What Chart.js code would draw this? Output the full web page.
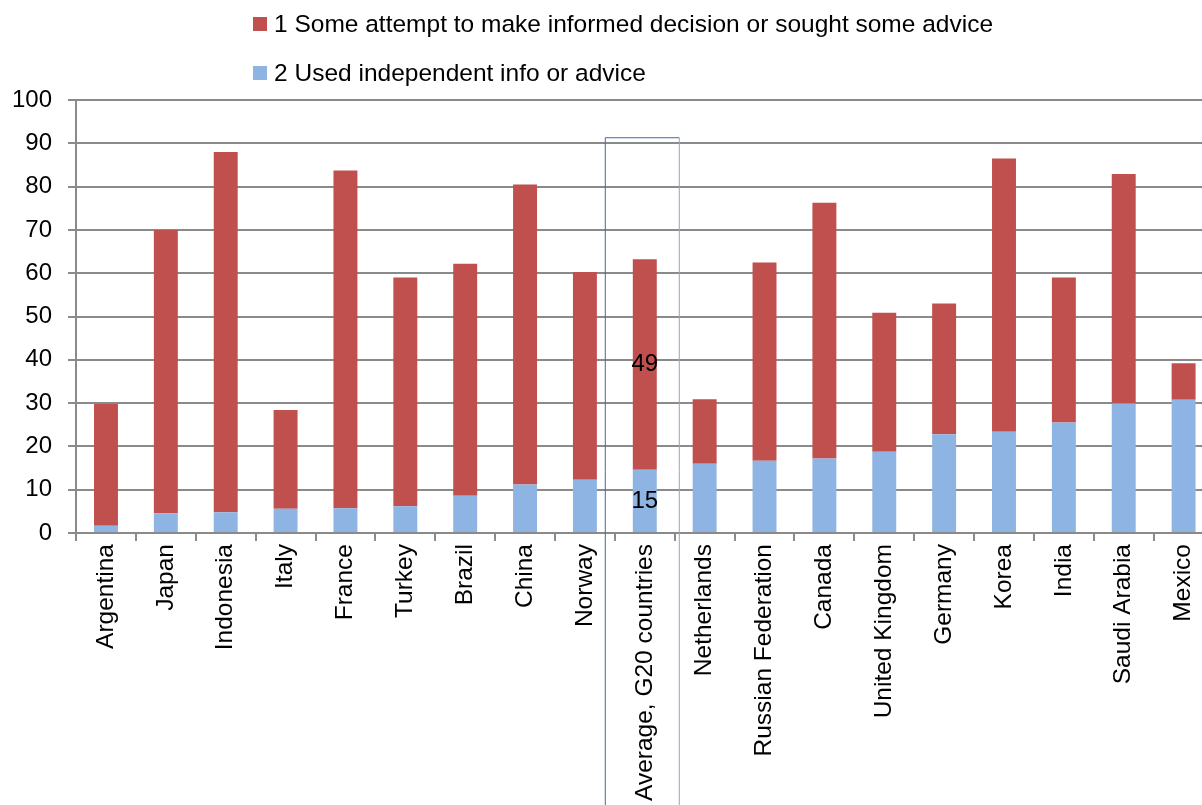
<!DOCTYPE html>
<html>
<head>
<meta charset="utf-8">
<script src="https://cdn.jsdelivr.net/npm/chart.js@4/dist/chart.umd.min.js"></script>
<style>
  html, body { margin: 0; padding: 0; background: #fff; overflow: hidden; }
  #wrap { position: absolute; left: -4px; top: 0; width: 1220px; height: 805px; }
</style>
</head>
<body>
<div id="wrap"><canvas id="chart"></canvas></div>
<script>
const countries = ['Argentina', 'Japan', 'Indonesia', 'Italy', 'France', 'Turkey', 'Brazil', 'China', 'Norway',
  'Average, G20 countries', 'Netherlands', 'Russian Federation', 'Canada', 'United Kingdom', 'Germany',
  'Korea', 'India', 'Saudi Arabia', 'Mexico'];

// 2 Used independent info or advice (bottom of stack)
const usedIndependent = [1.7, 4.6, 4.8, 5.6, 5.7, 6.2, 8.6, 11.2, 12.3, 14.6, 16.0, 16.7, 17.2, 18.8, 22.8, 23.4, 25.5, 29.9, 30.8];
// 1 Some attempt ... (segment stacked on top)
const someAttempt = [28.1, 65.4, 83.2, 22.8, 78.0, 52.8, 53.6, 69.3, 48.0, 48.6, 14.9, 45.8, 59.1, 32.1, 30.2, 63.1, 33.5, 53.0, 8.4];

const yTicks = [0, 10, 20, 30, 40, 50, 60, 70, 80, 90, 100];
const averageIndex = 9;

const FONT = 'Liberation Sans';
const RED = '#C0504D';
const BLUE = '#8EB4E3';
const GRID = '#8A8A8A';

// legend with two rows, red first (canvas is shifted 4px left)
const legendRows = {
  id: 'legendRows',
  afterDraw(chart) {
    const ctx = chart.ctx;
    const items = [chart.data.datasets[1], chart.data.datasets[0]];
    ctx.save();
    ctx.font = '24.5px "' + FONT + '"';
    ctx.textBaseline = 'middle';
    ctx.textAlign = 'left';
    items.forEach((ds, i) => {
      const y = 24 + i * 49;
      ctx.fillStyle = ds.backgroundColor;
      ctx.fillRect(257, y - 7, 14, 14);
      ctx.fillStyle = '#000';
      ctx.fillText(ds.label, 278, y + 1);
    });
    ctx.restore();
  }
};

// box around the average column and its value labels
const averageBox = {
  id: 'averageBox',
  afterDatasetsDraw(chart) {
    const ctx = chart.ctx;
    const x = chart.scales.x.getPixelForValue(averageIndex);
    const top = chart.scales.y.getPixelForValue(91.4);
    ctx.save();
    ctx.strokeStyle = '#3F6AA6';
    ctx.lineWidth = 1;
    ctx.beginPath();
    ctx.moveTo(x - 39.5, chart.height);
    ctx.lineTo(x - 39.5, top + 0.5);
    ctx.lineTo(x + 34.5, top + 0.5);
    ctx.stroke();
    ctx.strokeStyle = '#8FA6C6';
    ctx.beginPath();
    ctx.moveTo(x + 34.5, top + 0.5);
    ctx.lineTo(x + 34.5, chart.height);
    ctx.stroke();

    ctx.font = '24px "' + FONT + '"';
    ctx.fillStyle = '#000';
    ctx.textAlign = 'center';
    ctx.textBaseline = 'middle';
    chart.data.datasets.forEach((ds, di) => {
      const bar = chart.getDatasetMeta(di).data[averageIndex];
      const c = bar.getCenterPoint();
      ctx.fillText(Math.round(ds.data[averageIndex]), c.x, c.y);
    });
    ctx.restore();
  }
};

new Chart(document.getElementById('chart'), {
  type: 'bar',
  data: {
    labels: countries,
    datasets: [
      { label: '2 Used independent info or advice', data: usedIndependent, backgroundColor: BLUE,
        categoryPercentage: 1, barPercentage: 0.4 },
      { label: '1 Some attempt to make informed decision or sought some advice', data: someAttempt, backgroundColor: RED,
        categoryPercentage: 1, barPercentage: 0.4 }
    ]
  },
  options: {
    responsive: true,
    maintainAspectRatio: false,
    animation: false,
    layout: { padding: { top: 100, left: 0, right: 0, bottom: 1 } },
    plugins: {
      legend: { display: false },
      tooltip: { enabled: false }
    },
    scales: {
      x: {
        stacked: true,
        grid: { drawOnChartArea: false, drawTicks: true, tickLength: 8, color: GRID, lineWidth: 2 },
        border: { color: GRID, width: 2 },
        ticks: { color: '#000', font: { family: FONT, size: 24.5 }, minRotation: 90, maxRotation: 90, padding: 3, autoSkip: false }
      },
      y: {
        stacked: true,
        min: 0,
        max: 100,
        afterBuildTicks(axis) { axis.ticks = yTicks.map(v => ({ value: v })); },
        grid: { color: GRID, lineWidth: 2, tickLength: 8 },
        border: { color: GRID, width: 2 },
        ticks: { color: '#000', font: { family: FONT, size: 24 }, padding: 16 }
      }
    }
  },
  plugins: [legendRows, averageBox]
});
</script>
</body>
</html>
